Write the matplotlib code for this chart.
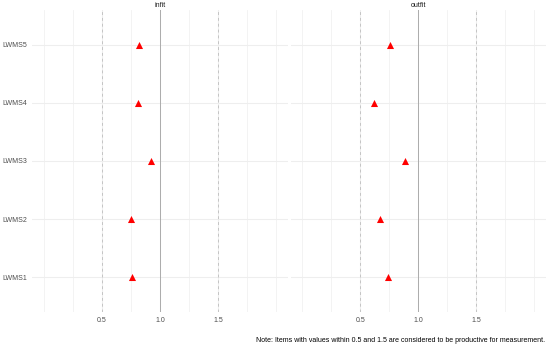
import matplotlib
matplotlib.use("Agg")
import matplotlib.pyplot as plt

items = ["LWMS1", "LWMS2", "LWMS3", "LWMS4", "LWMS5"]
infit = [0.76, 0.75, 0.92, 0.81, 0.82]
outfit = [0.74, 0.67, 0.885, 0.62, 0.76]
panels = ["infit", "outfit"]
x_breaks = [0.5, 1.0, 1.5]
x_labels = ["0.5", "1.0", "1.5"]
minor_breaks = [0.0, 0.25, 0.75, 1.25, 1.75, 2.0]
note = "Note: Items with values within 0.5 and 1.5 are considered to be productive for measurement."

plt.rcParams['font.family'] = ['Liberation Sans', 'DejaVu Sans']

W, H = 550, 347
fig = plt.figure(figsize=(W / 100, H / 100), dpi=100)

def px_axes(x0, x1, ytop, ybot):
    return fig.add_axes([x0 / W, 1 - ybot / H, (x1 - x0) / W, (ybot - ytop) / H])

ax1 = px_axes(32.4, 287.6, 10, 312)
ax2 = px_axes(290.7, 545.9, 10, 312)

FS = 5.0
ypos = list(range(1, len(items) + 1))
for ax, vals, title in zip([ax1, ax2], [infit, outfit], panels):
    ax.set_xlim(-0.1, 2.1)
    ax.set_ylim(0.4, len(items) + 0.6)
    for s in ax.spines.values():
        s.set_visible(False)
    for m in minor_breaks:
        ax.axvline(m, color="#EEEEEE", lw=0.5, zorder=0)
    for b in x_breaks:
        ax.axvline(b, color="#EEEEEE", lw=0.8, zorder=0)
    for y in ypos:
        ax.axhline(y, color="#EEEEEE", lw=0.8, zorder=0)
    ax.axvline(0.5, color="#C4C4C4", lw=0.7, ls=(0, (3, 3)), zorder=1)
    ax.axvline(1.5, color="#C4C4C4", lw=0.7, ls=(0, (3, 3)), zorder=1)
    ax.axvline(1.0, color="#ABABAB", lw=0.7, zorder=1)
    ax.scatter(vals, ypos, marker="^", color="#FF0000", s=26, zorder=3, linewidths=0)
    ax.set_xticks(x_breaks)
    ax.set_xticklabels(x_labels)
    ax.tick_params(axis="both", length=0, labelsize=FS, colors="#4D4D4D", pad=3.5)
    ax.set_title(title, fontsize=FS, color="#1A1A1A", pad=2.5)
    ax.set_facecolor("white")

ax1.set_yticks(ypos)
ax1.set_yticklabels(items)
ax2.set_yticks([])

fig.text(545 / W, 1 - 340 / H, note, ha="right", va="center", fontsize=FS, color="black")

fig.savefig("out.png", dpi=100, facecolor="white")
